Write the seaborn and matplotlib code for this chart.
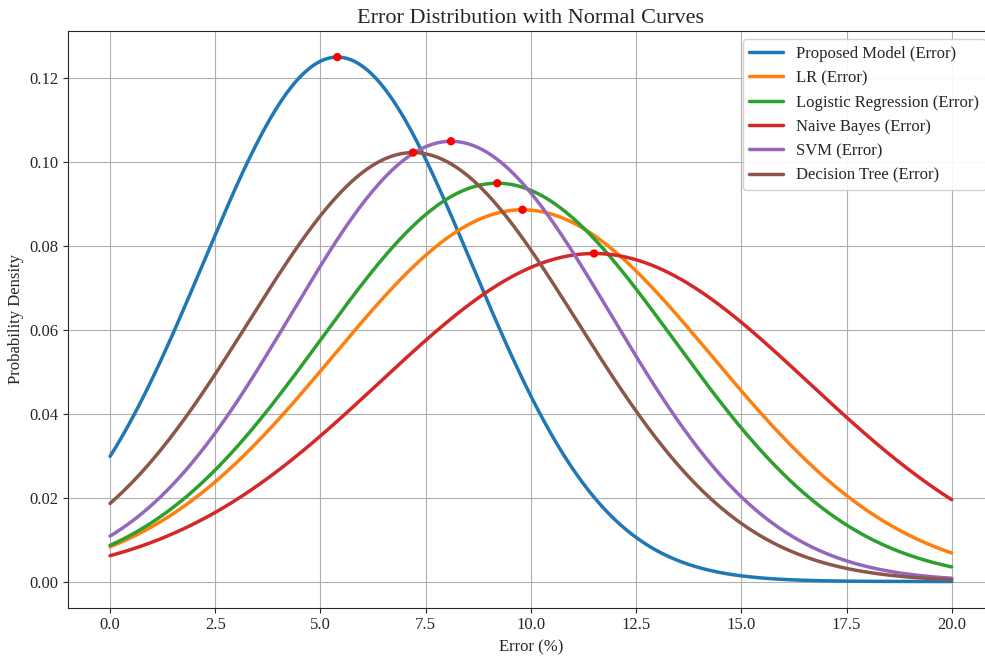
import matplotlib
matplotlib.use("Agg")
import matplotlib.pyplot as plt
import seaborn as sns
import numpy as np
import pandas as pd

# error stats per model (mean %, std %)
models = ['Proposed Model', 'LR', 'Logistic Regression', 'Naive Bayes', 'SVM', 'Decision Tree']
means = [5.4, 9.8, 9.2, 11.5, 8.1, 7.2]
stds = [3.19, 4.5, 4.2, 5.1, 3.8, 3.9]

sns.set_style("ticks")
plt.rcParams['font.family'] = ['Liberation Serif', 'DejaVu Serif']

x = np.linspace(0, 20, 400)
rows = []
for m, mu, sd in zip(models, means, stds):
    y = np.exp(-(x - mu) ** 2 / (2 * sd ** 2)) / (sd * np.sqrt(2 * np.pi))
    rows.append(pd.DataFrame({'x': x, 'y': y, 'model': m + ' (Error)'}))
df = pd.concat(rows)

fig, ax = plt.subplots(figsize=(9.85, 6.57), dpi=100)
palette = sns.color_palette("tab10", 6)
sns.lineplot(data=df, x='x', y='y', hue='model', palette=palette, linewidth=2.5, ax=ax)

peaks = pd.DataFrame({'x': means, 'y': [1 / (sd * np.sqrt(2 * np.pi)) for sd in stds]})
sns.scatterplot(data=peaks, x='x', y='y', color='red', s=36, zorder=5, edgecolor='none', ax=ax, legend=False)

ax.set_title('Error Distribution with Normal Curves', fontsize=16)
ax.set_xlabel('Error (%)', fontsize=12)
ax.set_ylabel('Probability Density', fontsize=12)
ax.set_xticks(np.arange(0, 20.1, 2.5))
ax.tick_params(labelsize=12)
ax.grid(True, color='#b0b0b0', linewidth=0.8)
ax.legend(title=None, fontsize=12, loc='upper right', framealpha=0.9)

# the original is cropped just left of the right spine
fig.subplots_adjust(left=0.069, right=1.009, top=0.953, bottom=0.075)
plt.savefig('out.png')
